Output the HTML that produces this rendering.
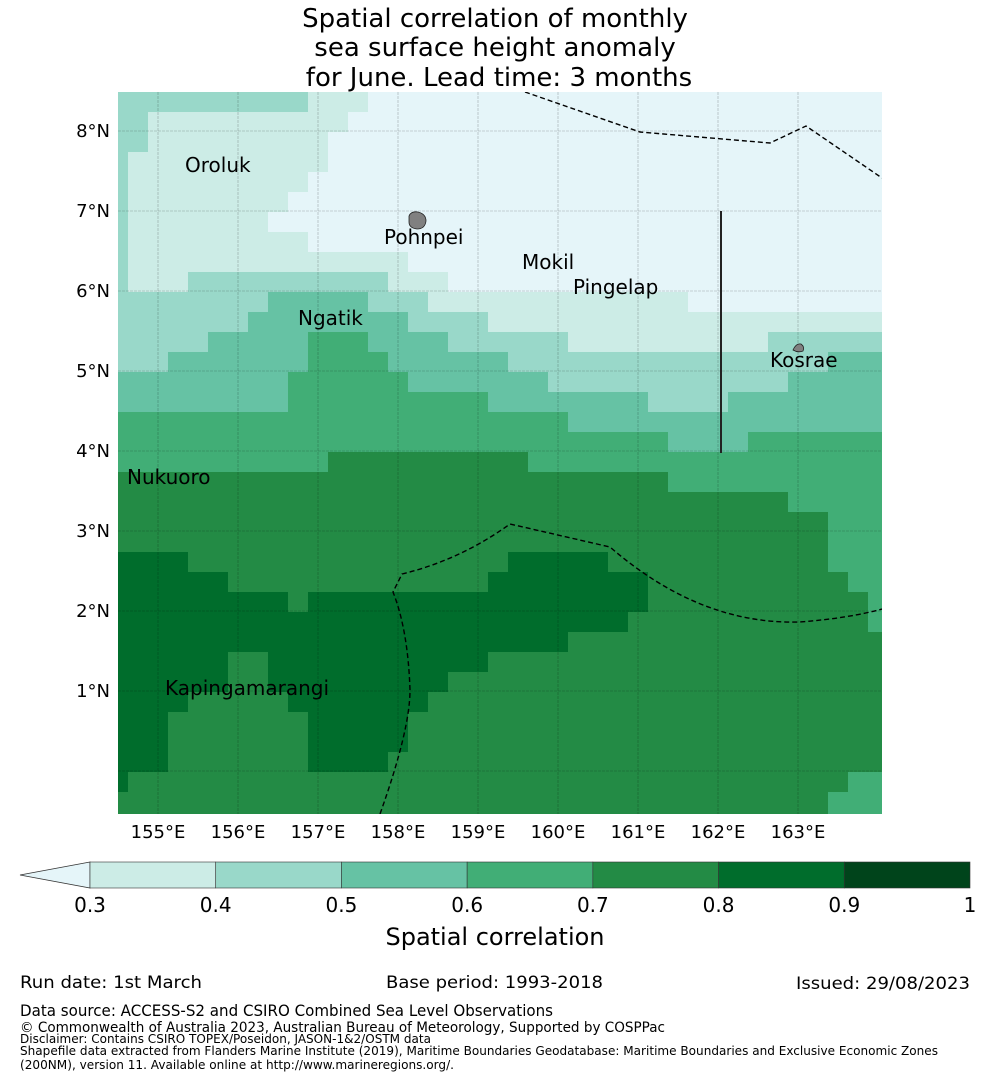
<!DOCTYPE html>
<html><head><meta charset="utf-8">
<style>
html,body{margin:0;padding:0;background:#fff;}
svg{display:block;font-family:"DejaVu Sans","Liberation Sans",sans-serif;}
</style></head>
<body>
<svg id="chart" width="990" height="1080" viewBox="0 0 990 1080">
  <g font-size="26" text-anchor="middle" fill="#000">
    <text x="495" y="27">Spatial correlation of monthly</text>
    <text x="495" y="56">sea surface height anomaly</text>
    <text x="499" y="86">for June. Lead time: 3 months</text>
  </g>
  <defs><clipPath id="mapclip"><rect x="118" y="92" width="764" height="722"/></clipPath></defs>
  <g id="cells" clip-path="url(#mapclip)"></g>
  <g id="grid" clip-path="url(#mapclip)"></g>
  <g id="overlay" clip-path="url(#mapclip)">
    <path d="M525,92 L640,132 L770,143 L806,126 L882,178" fill="none" stroke="#000" stroke-width="1.4" stroke-dasharray="5,3"/>
    <path d="M380,814 Q410,730 410,690 Q408,630 393,592 L402,574 Q460,560 510,524 L610,547 Q700,625 800,622 Q850,618 882,609" fill="none" stroke="#000" stroke-width="1.4" stroke-dasharray="5,3"/>
    <line x1="721" y1="211" x2="721" y2="453" stroke="#222" stroke-width="2"/>
    <path d="M409,216 Q411,211 418,212 Q426,214 426,221 Q425,229 417,229 Q409,228 409,222Z" fill="#808080" stroke="#222" stroke-width="0.8"/>
    <path d="M793,350 Q796,343 801,344 Q805,347 803,351 Q798,353 793,350Z" fill="#808080" stroke="#222" stroke-width="0.8"/>
  </g>
  <g font-size="20" fill="#000">
    <text x="185" y="172">Oroluk</text>
    <text x="384" y="244">Pohnpei</text>
    <text x="522" y="269">Mokil</text>
    <text x="573" y="294">Pingelap</text>
    <text x="298" y="325">Ngatik</text>
    <text x="770" y="367">Kosrae</text>
    <text x="127" y="484">Nukuoro</text>
    <text x="165" y="695">Kapingamarangi</text>
  </g>
  <g id="axes" font-size="18" fill="#000"></g>
  <g>
    <g id="cbar"></g>
    <text x="495" y="945" font-size="24" text-anchor="middle">Spatial correlation</text>
  </g>
  <g font-size="17" fill="#000">
    <text x="20" y="988" textLength="182" lengthAdjust="spacingAndGlyphs">Run date: 1st March</text>
    <text x="386" y="988" textLength="217" lengthAdjust="spacingAndGlyphs">Base period: 1993-2018</text>
    <text x="796" y="989" textLength="174" lengthAdjust="spacingAndGlyphs">Issued: 29/08/2023</text>
    <text x="20" y="1016" font-size="16" textLength="533" lengthAdjust="spacingAndGlyphs">Data source: ACCESS-S2 and CSIRO Combined Sea Level Observations</text>
    <text x="20" y="1032" font-size="14" textLength="645" lengthAdjust="spacingAndGlyphs">© Commonwealth of Australia 2023, Australian Bureau of Meteorology, Supported by COSPPac</text>
    <text x="20" y="1043" font-size="12" textLength="411" lengthAdjust="spacingAndGlyphs">Disclaimer: Contains CSIRO TOPEX/Poseidon, JASON-1&amp;2/OSTM data</text>
    <text x="20" y="1055" font-size="12" textLength="918" lengthAdjust="spacingAndGlyphs">Shapefile data extracted from Flanders Marine Institute (2019), Maritime Boundaries Geodatabase: Maritime Boundaries and Exclusive Economic Zones</text>
    <text x="20" y="1069" font-size="12" textLength="434" lengthAdjust="spacingAndGlyphs">(200NM), version 11. Available online at http://www.marineregions.org/.</text>
  </g>
</svg>
<script>
// Correlation level per cell (0: <0.3, 1: 0.3-0.4, ... 7: 0.9-1), run-length pairs [level,count] per row (north to south)
const rowRuns = [
 [2,10,1,3,0,26],[2,2,1,10,0,27],[2,2,1,9,0,28],[2,1,1,10,0,28],[2,1,1,9,0,29],
 [2,1,1,8,0,30],[2,1,1,7,0,31],[2,1,1,9,0,29],[2,1,1,14,0,24],[2,1,1,3,2,10,1,3,0,22],
 [2,8,3,5,2,3,1,13,0,10],[2,7,3,8,2,4,1,20],[2,5,3,5,4,3,3,4,2,6,1,10,2,6],
 [2,3,3,7,4,4,3,6,2,16,3,3],[3,9,4,6,3,7,2,12,3,5],[3,9,4,10,3,8,2,4,3,8],
 [4,23,3,16],[4,28,3,4,4,7],[4,11,5,10,4,18],[5,28,4,11],[5,34,4,5],[5,36,4,3],[5,36,4,3],
 [6,4,5,16,6,5,5,11,4,3],[6,6,5,13,6,8,5,10,4,2],[6,9,5,1,6,17,5,11,4,1],[6,26,5,12,4,1],
 [6,23,5,16],[6,6,5,2,6,11,5,20],[6,6,5,2,6,9,5,22],[6,4,5,5,6,7,5,23],[6,3,5,7,6,5,5,24],
 [6,3,5,7,6,5,5,24],[6,3,5,7,6,4,5,25],[6,1,5,36,4,2],[5,36,4,3],[5,36,4,3]
];
const levelColors = ["#e5f5f9","#ccece6","#99d8c9","#66c2a4","#41ae76","#238b45","#006d2c","#00441b"];
const lonTicks = [155,156,157,158,159,160,161,162,163];
const latTicks = [1,2,3,4,5,6,7,8];
const cbarTicks = ["0.3","0.4","0.5","0.6","0.7","0.8","0.9","1"];
const cellDeg = 0.25, lon0 = 154.375, lat0 = 8.4875;

const NS = "http://www.w3.org/2000/svg";
const xOf = lon => 158 + (lon - 155) * 80;
const yOf = lat => 131 + (8 - lat) * 80;
function mk(tag, attrs, parent){const e=document.createElementNS(NS,tag);for(const k in attrs)e.setAttribute(k,attrs[k]);parent.appendChild(e);return e;}

const cells = document.getElementById("cells");
rowRuns.forEach((runs, r) => {
  let c = 0;
  for (let i = 0; i < runs.length; i += 2) {
    const lvl = runs[i], n = runs[i+1];
    const x = xOf(lon0 + c * cellDeg), y = yOf(lat0 - r * cellDeg);
    const el = mk("rect", {x: x, y: y, width: n * cellDeg * 80 + 0.5, height: cellDeg * 80 + 0.5, fill: levelColors[lvl]}, cells);
    
    
    c += n;
  }
});

const grid = document.getElementById("grid");
lonTicks.forEach(l => {
  const el = mk("line", {x1: xOf(l), x2: xOf(l), y1: 92, y2: 814, stroke: "#000", "stroke-opacity": 0.3, "stroke-width": 0.6, "stroke-dasharray": "3,1"}, grid);
  
  
});
latTicks.concat([0]).forEach(l => {
  const el = mk("line", {x1: 118, x2: 882, y1: yOf(l), y2: yOf(l), stroke: "#000", "stroke-opacity": 0.3, "stroke-width": 0.6, "stroke-dasharray": "3,1"}, grid);
  
  
});

const axes = document.getElementById("axes");
lonTicks.forEach(l => {
  const t = mk("text", {x: xOf(l), y: 838, "text-anchor": "middle"}, axes);
  t.textContent = l + "°E";
  
  
});
latTicks.forEach(l => {
  const t = mk("text", {x: 110, y: yOf(l) + 6, "text-anchor": "end"}, axes);
  t.textContent = l + "°N";
  
  
});

const cbar = document.getElementById("cbar");
const cx0 = 90, cx1 = 970, cy = 862, ch = 26, seg = (cx1 - cx0) / 7;
const tri = mk("path", {d: `M${cx0},${cy} L20,${cy+ch/2} L${cx0},${cy+ch} Z`, fill: levelColors[0], stroke: "#333", "stroke-width": 0.8}, cbar);


for (let i = 0; i < 7; i++) {
  const r = mk("rect", {x: cx0 + i * seg, y: cy, width: seg, height: ch, fill: levelColors[i+1], stroke: "#333", "stroke-width": 0.6}, cbar);
  
  
}
cbarTicks.forEach((lab, i) => {
  const t = mk("text", {x: cx0 + i * seg, y: 912, "text-anchor": "middle", "font-size": 20}, cbar);
  t.textContent = lab;
  
  
});
</script>
</body></html>
